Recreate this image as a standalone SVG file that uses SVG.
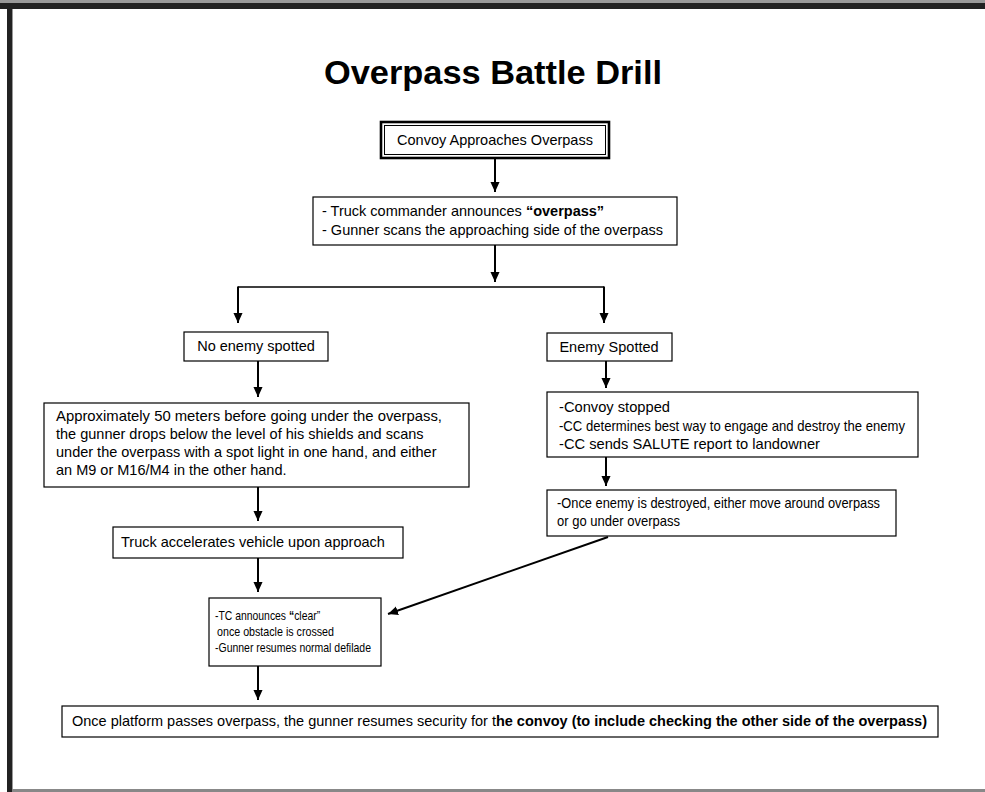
<svg xmlns="http://www.w3.org/2000/svg" width="985" height="792" viewBox="0 0 985 792">
<style>
text{font-family:"Liberation Sans",Arial,sans-serif;fill:#000}
.t{font-size:14.5px}
.s{font-size:13px}
.box{fill:#fff;stroke:#000;stroke-width:1.2}
.ar{stroke:#000;stroke-width:2;fill:none;marker-end:url(#ah)}
.thin{stroke:#000;stroke-width:1.3;fill:none}
</style>
<defs>
<marker id="ah" markerWidth="10" markerHeight="11" refX="11" refY="5" orient="auto" markerUnits="userSpaceOnUse" viewBox="0 0 11 10">
<path d="M0,0 L11,5 L0,10 z" fill="#000"/>
</marker>
</defs>
<rect x="0" y="0" width="985" height="792" fill="#fff"/>
<g id="frame">
<rect x="0" y="0" width="985" height="3" fill="#999"/>
<rect x="0" y="3" width="985" height="6" fill="#222"/>
<rect x="7" y="3" width="5" height="789" fill="#222"/>
<rect x="12" y="9" width="1" height="783" fill="#999"/>
<rect x="12" y="789" width="973" height="3" fill="#888"/>
</g>
<g id="title"><text x="493" y="84" text-anchor="middle" font-size="34" font-weight="bold" textLength="338" lengthAdjust="spacingAndGlyphs">Overpass Battle Drill</text></g>

<g id="connectors">
<line class="ar" x1="495" y1="159" x2="495" y2="192"/>
<line class="ar" x1="495" y1="245" x2="495" y2="282"/>
<line class="thin" x1="238" y1="287" x2="604" y2="287"/>
<line class="ar" x1="238" y1="286.5" x2="238" y2="323"/>
<line class="ar" x1="604" y1="286.5" x2="604" y2="323"/>
<line class="ar" x1="258" y1="361" x2="258" y2="397"/>
<line class="ar" x1="258" y1="487" x2="258" y2="521"/>
<line class="ar" x1="258" y1="558" x2="258" y2="592"/>
<line class="ar" x1="258" y1="666" x2="258" y2="700"/>
<line class="ar" x1="606" y1="361" x2="606" y2="388"/>
<line class="ar" x1="606" y1="457" x2="606" y2="486"/>
<line class="ar" x1="608" y1="537" x2="388" y2="614"/>
</g>

<g id="n1">
<rect x="381" y="122" width="228" height="36" fill="#fff" stroke="#000" stroke-width="2.6"/>
<rect x="384.5" y="125.5" width="221" height="29" fill="none" stroke="#000" stroke-width="1"/>
<text class="t" x="495" y="145" text-anchor="middle">Convoy Approaches Overpass</text>
</g>
<g id="n2">
<rect class="box" x="313" y="197" width="364" height="48"/>
<text class="t" x="322" y="216">- Truck commander announces <tspan font-weight="bold">“overpass”</tspan></text>
<text class="t" x="322" y="235">- Gunner scans the approaching side of the overpass</text>
</g>
<g id="n3">
<rect class="box" x="184" y="332" width="144" height="29"/>
<text class="t" x="256" y="351" text-anchor="middle">No enemy spotted</text>
</g>
<g id="n4">
<rect class="box" x="44" y="403" width="425" height="84"/>
<text class="t" x="56" y="421" textLength="386" lengthAdjust="spacingAndGlyphs">Approximately 50 meters before going under the overpass,</text>
<text class="t" x="56" y="439">the gunner drops below the level of his shields and scans</text>
<text class="t" x="56" y="457">under the overpass with a spot light in one hand, and either</text>
<text class="t" x="56" y="475">an M9 or M16/M4 in the other hand.</text>
</g>
<g id="n5">
<rect class="box" x="113" y="527" width="290" height="31"/>
<text class="t" x="121" y="547">Truck accelerates vehicle upon approach</text>
</g>
<g id="n6">
<rect class="box" x="209" y="598" width="172" height="68"/>
<text class="s" transform="translate(215,620) scale(0.8,1)" x="0" y="0">-TC announces <tspan font-weight="bold">“</tspan>clear”</text>
<text class="s" x="217" y="636" textLength="117" lengthAdjust="spacingAndGlyphs">once obstacle is crossed</text>
<text class="s" x="215" y="652" textLength="156" lengthAdjust="spacingAndGlyphs">-Gunner resumes normal defilade</text>
</g>
<g id="n7">
<rect class="box" x="547" y="333" width="125" height="28"/>
<text class="t" x="609" y="352" text-anchor="middle">Enemy Spotted</text>
</g>
<g id="n8">
<rect class="box" x="547" y="392" width="371" height="65"/>
<text class="t" x="559" y="412" textLength="111" lengthAdjust="spacingAndGlyphs">-Convoy stopped</text>
<text class="t" x="559" y="431" textLength="346" lengthAdjust="spacingAndGlyphs">-CC determines best way to engage and destroy the enemy</text>
<text class="t" x="559" y="449" textLength="261" lengthAdjust="spacingAndGlyphs">-CC sends SALUTE report to landowner</text>
</g>
<g id="n9">
<rect class="box" x="547" y="490" width="349" height="46"/>
<text class="t" x="557" y="508" textLength="323" lengthAdjust="spacingAndGlyphs">-Once enemy is destroyed, either move around overpass</text>
<text class="t" x="557" y="526" textLength="123" lengthAdjust="spacingAndGlyphs">or go under overpass</text>
</g>
<g id="n10">
<rect class="box" x="62" y="706" width="876" height="31"/>
<text font-size="14.5" transform="translate(72,726) scale(1.0,1)" x="0" y="0">Once platform passes overpass, the gunner resumes security for t<tspan font-weight="600">he convoy (to include checking the other side of the overpass)</tspan></text>
</g>
</svg>
